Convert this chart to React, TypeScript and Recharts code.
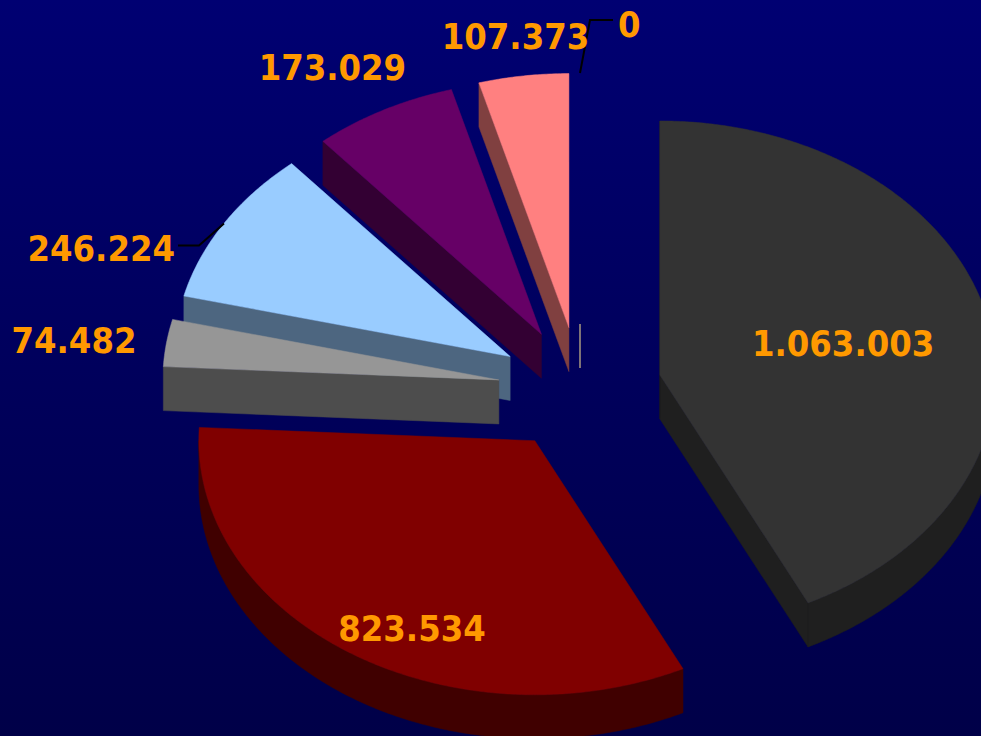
import React from 'react';
import { PieChart, Pie, Tooltip } from 'recharts';

// ---- data ----
const categories = ['Serie 1', 'Serie 2', 'Serie 3', 'Serie 4', 'Serie 5', 'Serie 6', 'Serie 7'];
const values = [1063003, 823534, 74482, 246224, 173029, 107373, 0];
const topColors = ['#333333', '#800000', '#969696', '#99ccff', '#660066', '#ff8080', '#a89a80'];
const sideColors = ['#1f1f1f', '#400000', '#4d4d4d', '#4d6680', '#330033', '#804040', '#a89a80'];

// Slices are fed to the pie in reverse order and laid out counter-clockwise,
// which gives the same picture (series 1 clockwise from 12 o'clock) while
// painting the back slices first.
const data = categories
  .map((name, i) => ({
    name,
    value: values[i],
    fill: topColors[i],
    side: sideColors[i],
  }))
  .reverse();

// ---- 3D look ----
const TILT = 0.756; // vertical flattening
const DEPTH = 44; // slice thickness (px)
const EXPLODE = 82; // explosion distance
const RAD = Math.PI / 180;

const fmt = (v: number) => String(v).replace(/\B(?=(\d{3})+(?!\d))/g, '.');

// label layout (by series) relative to library-computed slice geometry
const LABEL_LAYOUT: any[] = [
  { f: 0.56, dx: 0, dy: 0, anchor: 'middle' },
  { f: 0.75, dx: 16, dy: 28, anchor: 'middle' },
  { f: 1, dx: -30, dy: -3, anchor: 'end' },
  { f: 1, dx: -49, dy: 25, anchor: 'end', leader: { ex: -25, ey: 22, tx: 3, ty: -3 } },
  { f: 1, dx: -51, dy: -43, anchor: 'middle' },
  { f: 1, dx: -8, dy: -40, anchor: 'middle' },
  { f: 1, dx: 38, dy: -49, anchor: 'start', leader: { ex: 10, ey: -53, tx: -5, ty: -4 } },
];

function geom(p: any) {
  const r = p.outerRadius;
  const ry = r * TILT;
  const mid = p.midAngle ?? (p.startAngle + p.endAngle) / 2;
  const ox = p.cx + EXPLODE * Math.cos(mid * RAD);
  const oy = p.cy - EXPLODE * TILT * Math.sin(mid * RAD);
  const pt = (a: number, dy = 0): [number, number] => [
    ox + r * Math.cos(a * RAD),
    oy - ry * Math.sin(a * RAD) + dy,
  ];
  const lo = Math.min(p.startAngle, p.endAngle);
  const hi = Math.max(p.startAngle, p.endAngle);
  return { ox, oy, r, ry, pt, lo, hi, mid };
}

const toPath = (pts: [number, number][]) =>
  pts.map((q, i) => `${i ? 'L' : 'M'}${q[0].toFixed(2)},${q[1].toFixed(2)}`).join(' ') + ' Z';

function sampleAngles(lo: number, hi: number, extra: number[] = []) {
  const arr: number[] = [];
  const n = Math.max(2, Math.ceil((hi - lo) / 0.5));
  for (let i = 0; i <= n; i++) arr.push(lo + ((hi - lo) * i) / n);
  extra.forEach((a) => {
    if (a > lo && a < hi) arr.push(a);
  });
  return arr.sort((a, b) => a - b);
}

function SliceShape(p: any) {
  const g = geom(p);
  const side = p.side ?? p.payload?.side ?? '#000';
  if (g.hi - g.lo < 1e-6) {
    return (
      <line x1={g.ox} y1={g.oy - 3} x2={g.ox} y2={g.oy + DEPTH - 3} stroke={side} strokeWidth={1.5} />
    );
  }
  const polys: [number, number][][] = [];
  if (Math.cos(g.lo * RAD) > 1e-6) {
    polys.push([[g.ox, g.oy], g.pt(g.lo), g.pt(g.lo, DEPTH), [g.ox, g.oy + DEPTH]]);
  }
  if (Math.cos(g.hi * RAD) < -1e-6) {
    polys.push([[g.ox, g.oy], g.pt(g.hi), g.pt(g.hi, DEPTH), [g.ox, g.oy + DEPTH]]);
  }
  const mults: number[] = [];
  for (let k = -4; k <= 4; k++) mults.push(k * 180);
  const angs = sampleAngles(g.lo, g.hi, mults);
  let run: number[] = [];
  const flush = () => {
    if (run.length >= 2) {
      const top = run.map((a) => g.pt(a));
      const bot = run.map((a) => g.pt(a, DEPTH)).reverse();
      polys.push([...top, ...bot]);
    }
    run = [];
  };
  for (let i = 0; i < angs.length - 1; i++) {
    const a = angs[i];
    const b = angs[i + 1];
    const m = (a + b) / 2;
    if (Math.sin(m * RAD) < 0) {
      if (run.length === 0) run.push(a);
      run.push(b);
    } else {
      flush();
    }
  }
  flush();
  const topAngs = sampleAngles(g.lo, g.hi);
  const topPts: [number, number][] = [[g.ox, g.oy], ...topAngs.map((a) => g.pt(a))];
  return (
    <g>
      {polys.map((pp, i) => (
        <path key={i} d={toPath(pp)} fill={side} stroke={side} strokeWidth={0.5} />
      ))}
      <path d={toPath(topPts)} fill={p.fill} stroke={p.fill} strokeWidth={0.5} />
    </g>
  );
}

function renderLabel(p: any) {
  const idx = categories.indexOf(p.name ?? p.payload?.name);
  const L = LABEL_LAYOUT[idx];
  if (!L) return null;
  const g = geom(p);
  const outer = g.pt(g.mid);
  const bx = g.ox + L.f * (outer[0] - g.ox) + L.dx;
  const by = g.oy + L.f * (outer[1] - g.oy) + L.dy;
  const val = typeof p.value === 'number' ? p.value : values[idx];
  return (
    <g key={`lbl-${idx}`}>
      {L.leader && (
        <polyline
          points={`${outer[0]},${outer[1]} ${outer[0] + L.leader.ex},${outer[1] + L.leader.ey} ${bx + L.leader.tx},${by + L.leader.ty}`}
          fill="none"
          stroke="#000000"
          strokeWidth={2}
        />
      )}
      <text
        x={bx}
        y={by + 13}
        textAnchor={L.anchor}
        fill="#ff9900"
        fontFamily="'DejaVu Sans', Verdana, sans-serif"
        fontWeight="bold"
        fontSize={36}
        style={{ fontStretch: 'condensed' }}
      >
        {fmt(val)}
      </text>
    </g>
  );
}

export default function App() {
  return (
    <div
      style={{
        position: 'absolute',
        left: 0,
        top: 0,
        width: 981,
        height: 736,
        background: 'linear-gradient(to bottom, #000072 0%, #00005c 50%, #000048 100%)',
      }}
    >
      <PieChart width={981} height={736} margin={{ top: 0, right: 0, bottom: 0, left: 0 }}>
        <Tooltip defaultIndex={0} content={() => null} cursor={false} />
        <Pie
          data={data}
          dataKey="value"
          nameKey="name"
          cx={580}
          cy={389}
          innerRadius={0}
          outerRadius={336}
          startAngle={90}
          endAngle={450}
          stroke="none"
          isAnimationActive={false}
          labelLine={false}
          label={renderLabel}
          shape={SliceShape as any}
          activeShape={SliceShape as any}
          inactiveShape={SliceShape as any}
        />
      </PieChart>
    </div>
  );
}
